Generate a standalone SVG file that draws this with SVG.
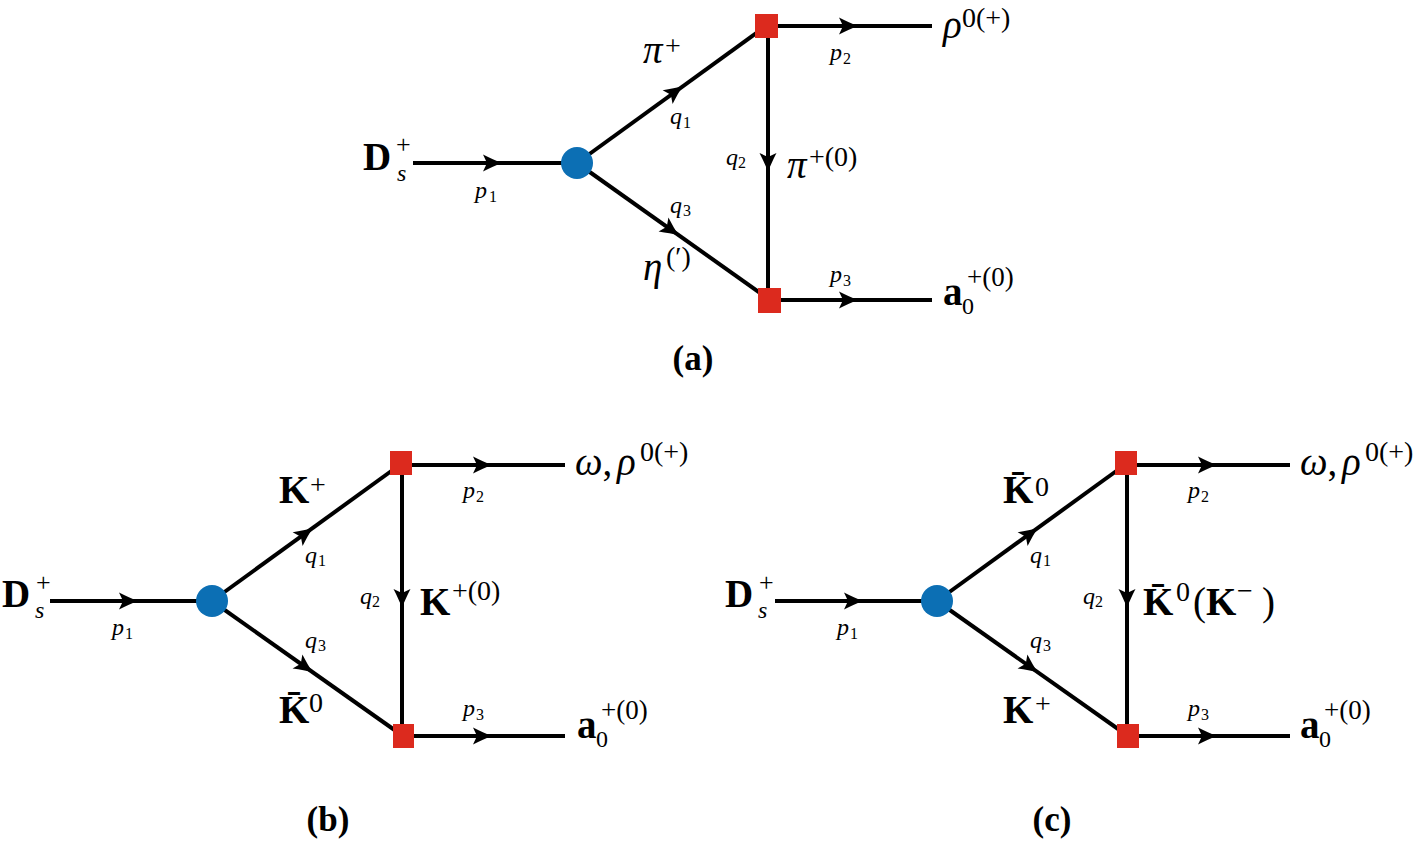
<svg xmlns="http://www.w3.org/2000/svg" width="1419" height="845" viewBox="0 0 1419 845">
<style>
.ln{stroke:#000;stroke-width:4;fill:none}
.ah{fill:#000}
.vtx{fill:#0c6fb4}
.sq{fill:#dc2a1e}
text{font-family:"Liberation Serif",serif;fill:#000}
.m{font-style:italic}
.b{font-weight:bold}
.big{font-size:39px}
.sup{font-size:28px}
.s27{font-size:27px}
.s26{font-size:26px}
.s24{font-size:24px}
.sm{font-size:24px}
.ss{font-size:16px}
.cap{font-weight:bold;font-size:35px;text-anchor:middle}
</style>
<defs>
<path id="ah" d="M0,0 C-6,-2 -12,-5 -19,-8.5 L-15,0 L-19,8.5 C-12,5 -6,2 0,0Z"/>
</defs>

<g id="connectors">
 <!-- (a) -->
 <line class="ln" x1="413" y1="163" x2="577" y2="163"/>
 <line class="ln" x1="577" y1="163" x2="766" y2="26"/>
 <line class="ln" x1="577" y1="163" x2="770" y2="300"/>
 <line class="ln" x1="768" y1="26" x2="768" y2="300"/>
 <line class="ln" x1="766" y1="26" x2="932" y2="26"/>
 <line class="ln" x1="770" y1="300" x2="932" y2="300"/>
 <use href="#ah" class="ah" transform="translate(502,163)"/>
 <use href="#ah" class="ah" transform="translate(683,86) rotate(-35.9)"/>
 <use href="#ah" class="ah" transform="translate(679,235.5) rotate(35.4)"/>
 <use href="#ah" class="ah" transform="translate(768,172) rotate(90)"/>
 <use href="#ah" class="ah" transform="translate(858,26)"/>
 <use href="#ah" class="ah" transform="translate(858,300)"/>
 <!-- (b) -->
 <line class="ln" x1="50" y1="601" x2="212" y2="601"/>
 <line class="ln" x1="212" y1="601" x2="401" y2="464"/>
 <line class="ln" x1="212" y1="601" x2="403" y2="736"/>
 <line class="ln" x1="402" y1="464" x2="402" y2="736"/>
 <line class="ln" x1="401" y1="465" x2="565" y2="465"/>
 <line class="ln" x1="403" y1="736" x2="565" y2="736"/>
 <use href="#ah" class="ah" transform="translate(138,601)"/>
 <use href="#ah" class="ah" transform="translate(313,528) rotate(-35.9)"/>
 <use href="#ah" class="ah" transform="translate(313,672.4) rotate(35.25)"/>
 <use href="#ah" class="ah" transform="translate(402,608) rotate(90)"/>
 <use href="#ah" class="ah" transform="translate(492,465)"/>
 <use href="#ah" class="ah" transform="translate(492,736)"/>
 <!-- (c) -->
 <line class="ln" x1="775" y1="601" x2="937" y2="601"/>
 <line class="ln" x1="937" y1="601" x2="1126" y2="464"/>
 <line class="ln" x1="937" y1="601" x2="1128" y2="736"/>
 <line class="ln" x1="1127" y1="464" x2="1127" y2="736"/>
 <line class="ln" x1="1126" y1="465" x2="1290" y2="465"/>
 <line class="ln" x1="1128" y1="736" x2="1290" y2="736"/>
 <use href="#ah" class="ah" transform="translate(863,601)"/>
 <use href="#ah" class="ah" transform="translate(1038,528) rotate(-35.9)"/>
 <use href="#ah" class="ah" transform="translate(1038,672.4) rotate(35.25)"/>
 <use href="#ah" class="ah" transform="translate(1127,608) rotate(90)"/>
 <use href="#ah" class="ah" transform="translate(1217,465)"/>
 <use href="#ah" class="ah" transform="translate(1217,736)"/>
</g>

<!-- nodes (a) -->
<g id="a-vertex"><circle class="vtx" cx="577" cy="163" r="16"/></g>
<g id="a-top"><rect class="sq" x="755" y="14" width="23" height="24"/></g>
<g id="a-bottom"><rect class="sq" x="758" y="288" width="23" height="25"/></g>
<!-- nodes (b) -->
<g id="b-vertex"><circle class="vtx" cx="212" cy="601" r="16"/></g>
<g id="b-top"><rect class="sq" x="390" y="451" width="22" height="24"/></g>
<g id="b-bottom"><rect class="sq" x="393" y="724" width="21" height="24"/></g>
<!-- nodes (c) -->
<g id="c-vertex"><circle class="vtx" cx="937" cy="601" r="16"/></g>
<g id="c-top"><rect class="sq" x="1115" y="451" width="22" height="24"/></g>
<g id="c-bottom"><rect class="sq" x="1117" y="724" width="22" height="24"/></g>

<g id="labels-a">
 <text x="363" y="170"><tspan class="b big">D</tspan><tspan class="m s24" x="397" y="181">s</tspan><tspan class="s26" x="396" y="153">+</tspan></text>
 <text x="475" y="198"><tspan class="m sm">p</tspan><tspan class="ss" x="489" y="202">1</tspan></text>
 <text x="643" y="63"><tspan class="m big">π</tspan><tspan class="sup" x="665" y="55">+</tspan></text>
 <text x="670" y="124"><tspan class="m sm">q</tspan><tspan class="ss" x="683" y="128">1</tspan></text>
 <text x="670" y="213"><tspan class="m sm">q</tspan><tspan class="ss" x="683" y="216">3</tspan></text>
 <text x="643" y="280"><tspan class="m big">η</tspan><tspan class="sup" x="666" y="266">(′)</tspan></text>
 <text x="943" y="38"><tspan class="m big">ρ</tspan><tspan class="sup" x="962" y="27">0(+)</tspan></text>
 <text x="830" y="60"><tspan class="m sm">p</tspan><tspan class="ss" x="843" y="64">2</tspan></text>
 <text x="726" y="165"><tspan class="m sm">q</tspan><tspan class="ss" x="738" y="168">2</tspan></text>
 <text x="787" y="178"><tspan class="m big">π</tspan><tspan class="sup" x="809" y="166">+(0)</tspan></text>
 <text x="830" y="282"><tspan class="m sm">p</tspan><tspan class="ss" x="843" y="286">3</tspan></text>
 <text x="943" y="305"><tspan class="b big">a</tspan><tspan class="s24" x="962" y="314">0</tspan><tspan class="s27" x="967" y="286">+(0)</tspan></text>
 <text class="cap" x="693" y="370">(a)</text>
</g>

<g id="labels-b">
 <text x="2" y="607"><tspan class="b big">D</tspan><tspan class="m s24" x="35" y="618">s</tspan><tspan class="s26" x="36" y="591">+</tspan></text>
 <text x="112" y="635"><tspan class="m sm">p</tspan><tspan class="ss" x="125" y="639">1</tspan></text>
 <text x="279" y="503"><tspan class="b big">K</tspan><tspan class="sup" x="310" y="494">+</tspan></text>
 <text x="305" y="563"><tspan class="m sm">q</tspan><tspan class="ss" x="318" y="566">1</tspan></text>
 <text x="305" y="648"><tspan class="m sm">q</tspan><tspan class="ss" x="318" y="651">3</tspan></text>
 <text x="279" y="723"><tspan class="b big">K̄</tspan><tspan class="sup" x="309" y="712">0</tspan></text>
 <text x="463" y="498"><tspan class="m sm">p</tspan><tspan class="ss" x="476" y="502">2</tspan></text>
 <text x="360" y="604"><tspan class="m sm">q</tspan><tspan class="ss" x="372" y="607">2</tspan></text>
 <text x="420" y="615"><tspan class="b big">K</tspan><tspan class="sup" x="452" y="600">+(0)</tspan></text>
 <text x="463" y="716"><tspan class="m sm">p</tspan><tspan class="ss" x="476" y="720">3</tspan></text>
 <text x="575" y="475"><tspan class="m big">ω</tspan><tspan class="big">,</tspan><tspan class="m big" x="617">ρ</tspan><tspan class="sup" x="640" y="461">0(+)</tspan></text>
 <text x="577" y="738"><tspan class="b big">a</tspan><tspan class="s24" x="596" y="747">0</tspan><tspan class="s27" x="601" y="719">+(0)</tspan></text>
 <text class="cap" x="328" y="831">(b)</text>
</g>

<g id="labels-c">
 <text x="725" y="607"><tspan class="b big">D</tspan><tspan class="m s24" x="758" y="618">s</tspan><tspan class="s26" x="759" y="591">+</tspan></text>
 <text x="837" y="635"><tspan class="m sm">p</tspan><tspan class="ss" x="850" y="639">1</tspan></text>
 <text x="1003" y="503"><tspan class="b big">K̄</tspan><tspan class="sup" x="1035" y="496">0</tspan></text>
 <text x="1030" y="563"><tspan class="m sm">q</tspan><tspan class="ss" x="1043" y="566">1</tspan></text>
 <text x="1030" y="648"><tspan class="m sm">q</tspan><tspan class="ss" x="1043" y="651">3</tspan></text>
 <text x="1003" y="723"><tspan class="b big">K</tspan><tspan class="sup" x="1035" y="713">+</tspan></text>
 <text x="1188" y="498"><tspan class="m sm">p</tspan><tspan class="ss" x="1201" y="502">2</tspan></text>
 <text x="1083" y="604"><tspan class="m sm">q</tspan><tspan class="ss" x="1095" y="607">2</tspan></text>
 <text x="1143" y="615"><tspan class="b big">K̄</tspan><tspan class="sup" x="1176" y="601">0</tspan><tspan class="big" x="1193" y="615">(</tspan><tspan class="b big">K</tspan><tspan class="sup" x="1237" y="600">−</tspan><tspan class="big" x="1262" y="615">)</tspan></text>
 <text x="1188" y="716"><tspan class="m sm">p</tspan><tspan class="ss" x="1201" y="720">3</tspan></text>
 <text x="1300" y="475"><tspan class="m big">ω</tspan><tspan class="big">,</tspan><tspan class="m big" x="1342">ρ</tspan><tspan class="sup" x="1365" y="461">0(+)</tspan></text>
 <text x="1300" y="738"><tspan class="b big">a</tspan><tspan class="s24" x="1319" y="747">0</tspan><tspan class="s27" x="1324" y="719">+(0)</tspan></text>
 <text class="cap" x="1052" y="831">(c)</text>
</g>
</svg>
